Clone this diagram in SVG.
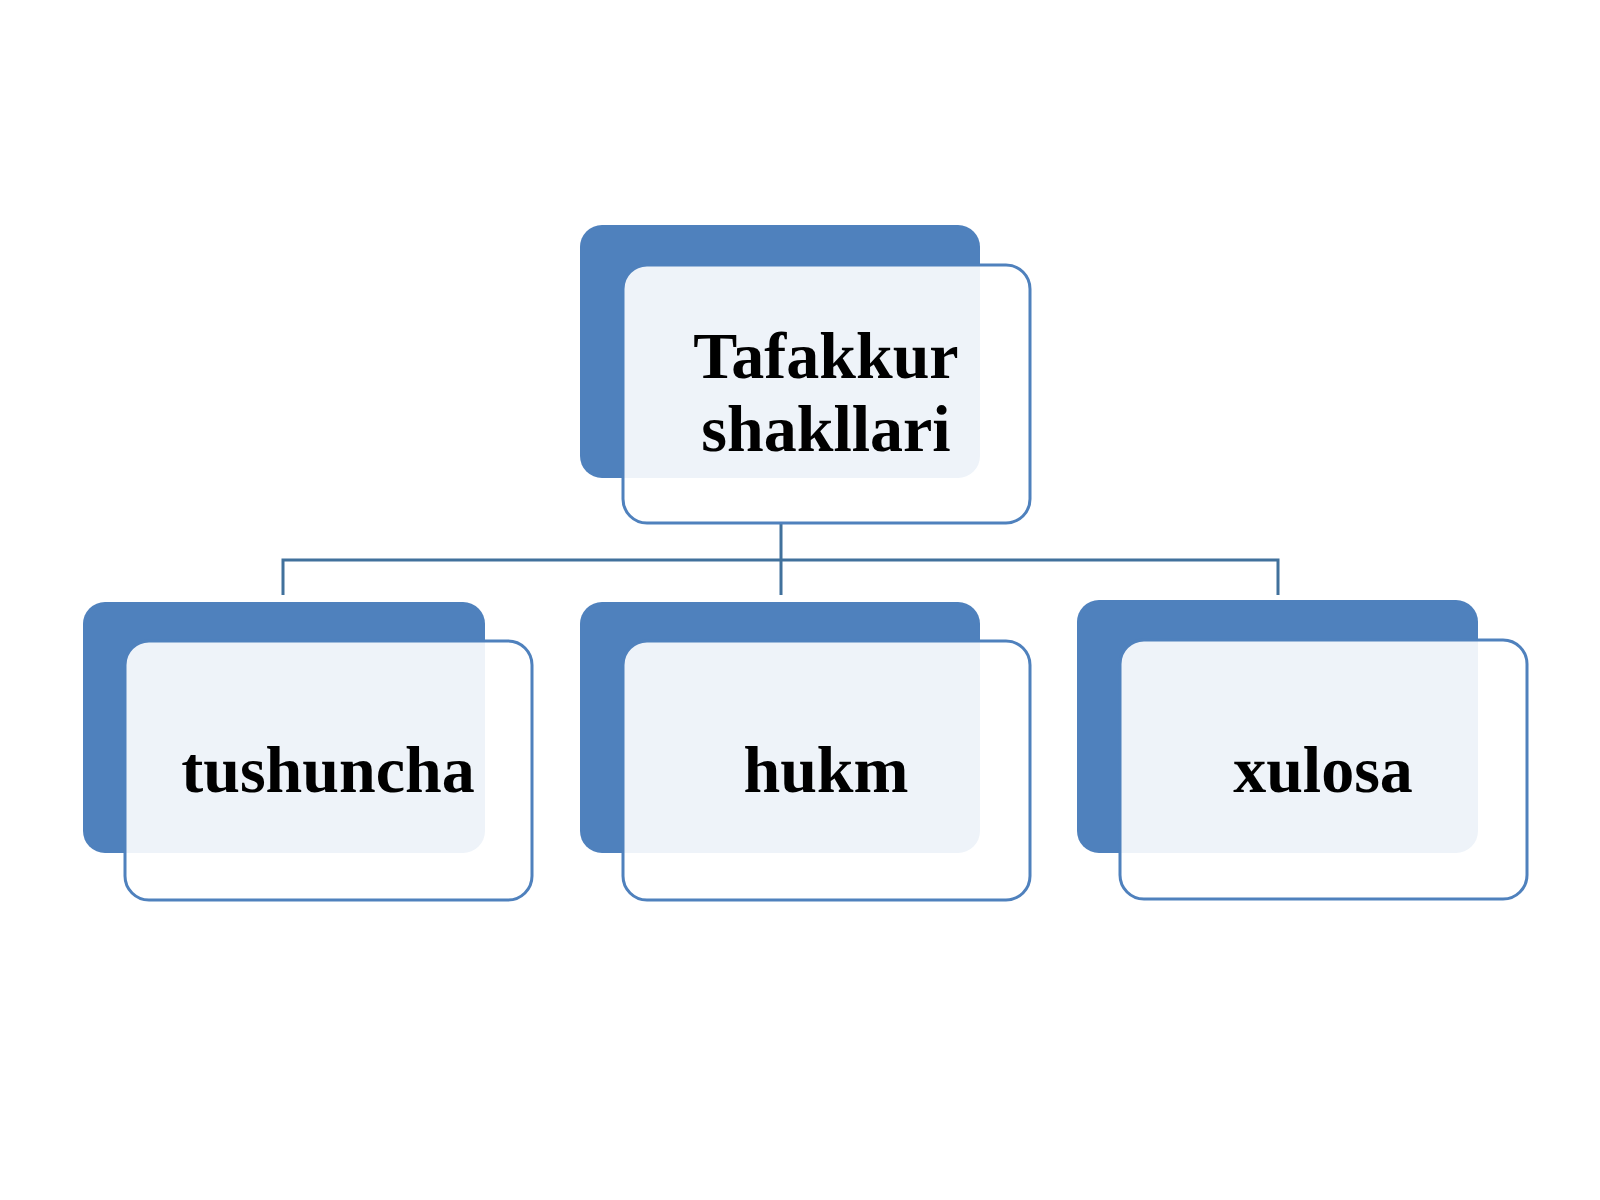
<svg xmlns="http://www.w3.org/2000/svg" width="1600" height="1200" viewBox="0 0 1600 1200">
<style>
.back{fill:#4f81bd}
.front{fill:#ffffff;fill-opacity:0.9;stroke:#4f81bd;stroke-width:3}
.t{font-family:"Liberation Serif",serif;font-weight:bold;font-size:66px;fill:#000;text-anchor:middle}
.c{fill:none;stroke:#41719c;stroke-width:3}
</style>
<rect width="1600" height="1200" fill="#fff"/>
<g id="connectors">
<path class="c" d="M781 523V595M283 595V560H1278V595"/>
</g>
<g id="top">
<rect class="back" x="580" y="225" width="400" height="253" rx="22"/>
<rect class="front" x="623" y="265" width="407" height="258" rx="24"/>
<text class="t" x="826" y="378">Tafakkur</text>
<text class="t" x="826" y="451">shakllari</text>
</g>
<g id="tushuncha">
<rect class="back" x="83" y="602" width="402" height="251" rx="22"/>
<rect class="front" x="125" y="641" width="407" height="259" rx="24"/>
<text class="t" x="328" y="792">tushuncha</text>
</g>
<g id="hukm">
<rect class="back" x="580" y="602" width="400" height="251" rx="22"/>
<rect class="front" x="623" y="641" width="407" height="259" rx="24"/>
<text class="t" x="826" y="792">hukm</text>
</g>
<g id="xulosa">
<rect class="back" x="1077" y="600" width="401" height="253" rx="22"/>
<rect class="front" x="1120" y="640" width="407" height="259" rx="24"/>
<text class="t" x="1323" y="792">xulosa</text>
</g>
</svg>
